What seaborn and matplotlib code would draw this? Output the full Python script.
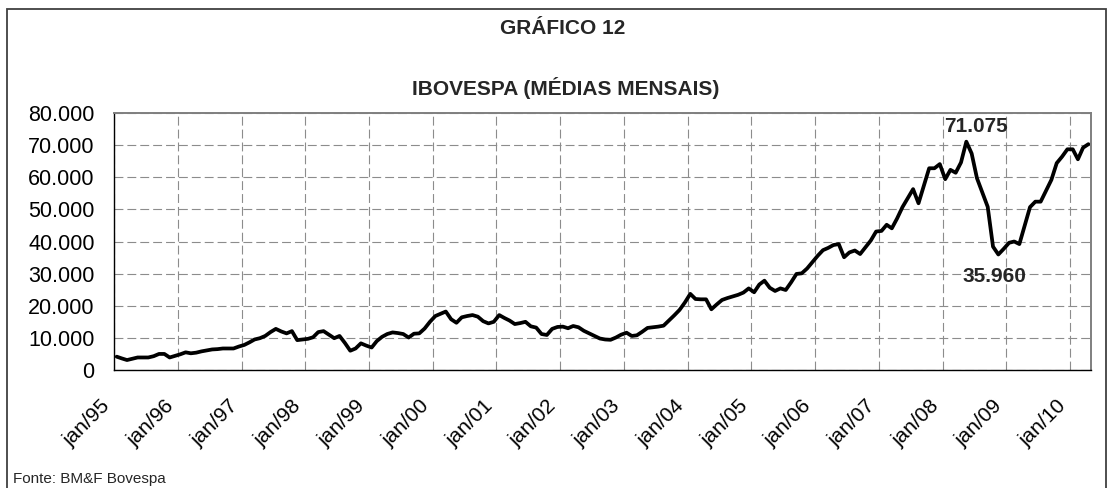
import numpy as np
import pandas as pd
import matplotlib
matplotlib.use("Agg")
import matplotlib.pyplot as plt
import seaborn as sns
from matplotlib.patches import Rectangle
from matplotlib.ticker import FuncFormatter

# ---------------- data (monthly averages, jan/95 .. apr/10) ----------------
ibov_1995 = [4150, 3600, 3100, 3500, 3900, 3900, 3900, 4300, 5000, 5000, 3900, 4400]
ibov_1996 = [4900, 5500, 5200, 5400, 5800, 6100, 6400, 6500, 6700, 6700, 6700, 7300]
ibov_1997 = [7800, 8600, 9500, 9900, 10600, 11800, 12800, 12000, 11400, 12100, 9300, 9500]
ibov_1998 = [9700, 10200, 11800, 12100, 11000, 9900, 10600, 8400, 6000, 6700, 8300, 7600]
ibov_1999 = [7000, 9000, 10300, 11200, 11700, 11500, 11200, 10100, 11300, 11400, 12900, 15000]
ibov_2000 = [16800, 17500, 18200, 15800, 14700, 16400, 16800, 17100, 16600, 15200, 14500, 15000]
ibov_2001 = [17100, 16200, 15400, 14300, 14600, 15000, 13600, 13200, 11200, 10900, 12800, 13400]
ibov_2002 = [13500, 13000, 13700, 13300, 12200, 11400, 10600, 9800, 9500, 9400, 10100, 11000]
ibov_2003 = [11600, 10600, 10800, 11900, 13100, 13300, 13500, 13800, 15400, 17000, 18700, 21000]
ibov_2004 = [23700, 22100, 22000, 22000, 18900, 20400, 21800, 22400, 22900, 23400, 24100, 25400]
ibov_2005 = [24200, 26600, 27800, 25600, 24600, 25400, 24900, 27300, 29900, 30100, 31600, 33600]
ibov_2006 = [35600, 37300, 38000, 38900, 39200, 35100, 36600, 37200, 36100, 38200, 40300, 43100]
ibov_2007 = [43300, 45200, 44100, 47200, 50700, 53500, 56300, 51900, 57300, 62800, 62800, 64100]
ibov_2008 = [59400, 62300, 61400, 64600, 71075, 67400, 59700, 55200, 50800, 38400, 35960, 37700]
ibov_2009 = [39600, 40000, 39200, 45000, 50700, 52400, 52400, 55800, 59200, 64400, 66400, 68700]
ibov_2010 = [68700, 65600, 69200, 70300]

year_tick_labels = ["jan/95", "jan/96", "jan/97", "jan/98", "jan/99", "jan/00",
                    "jan/01", "jan/02", "jan/03", "jan/04", "jan/05", "jan/06",
                    "jan/07", "jan/08", "jan/09", "jan/10"]
peak_label = "71.075"
trough_label = "35.960"

title_1 = "GRÁFICO 12"
title_2 = "IBOVESPA (MÉDIAS MENSAIS)"
source_text = "Fonte: BM&F Bovespa"

values = (ibov_1995 + ibov_1996 + ibov_1997 + ibov_1998 + ibov_1999 + ibov_2000 +
          ibov_2001 + ibov_2002 + ibov_2003 + ibov_2004 + ibov_2005 + ibov_2006 +
          ibov_2007 + ibov_2008 + ibov_2009 + ibov_2010)
n = len(values)
month_start = pd.date_range("1995-01-01", periods=n + 1, freq="MS")
mid_month = month_start[:-1] + (month_start[1:] - month_start[:-1]) / 2
df = pd.DataFrame({"data": mid_month, "ibovespa": values})

# ---------------- style ----------------
sns.set_style("white")
plt.rcParams["font.family"] = ["Liberation Sans", "DejaVu Sans"]

W, H = 1109, 488
fig = plt.figure(figsize=(W / 100, H / 100), dpi=100)
ax = fig.add_axes([114 / W, 1 - 370 / H, (1091 - 114) / W, (370 - 113) / H])

sns.lineplot(data=df, x="data", y="ibovespa", ax=ax, color="black", linewidth=2.7)

ax.set_xlim(month_start[0], month_start[-1])
ax.set_ylim(0, 80000)
ax.set_yticks(np.arange(0, 80001, 10000))
ax.yaxis.set_major_formatter(FuncFormatter(lambda v, p: f"{int(v):,}".replace(",", ".")))

year_ticks = pd.date_range("1995-01-01", periods=len(year_tick_labels), freq="YS")
ax.set_xticks(year_ticks)
ax.set_xticklabels(year_tick_labels, rotation=45, ha="right")

ax.set_xlabel("")
ax.set_ylabel("")

ax.grid(True, color="#8c8c8c", linewidth=0.8, linestyle=(0, (8.0, 3.6)))
ax.set_axisbelow(True)

for s in ["left", "bottom"]:
    ax.spines[s].set_color("black")
    ax.spines[s].set_linewidth(1.0)
for s in ["top", "right"]:
    ax.spines[s].set_color("#7f7f7f")
    ax.spines[s].set_linewidth(1.4)
    ax.spines[s].set_visible(True)

ax.tick_params(axis="both", direction="out", length=5, width=1, color="black",
               labelcolor="black")
ax.tick_params(axis="y", pad=9, labelsize=15.5)
ax.tick_params(axis="x", pad=14, labelsize=15)

# data labels
i_peak = int(np.argmax(values))
i_trough = 160 + int(np.argmin(values[160:]))
ax.annotate(peak_label, xy=(df["data"][i_peak], values[i_peak]), xytext=(7, 11),
            textcoords="offset points", ha="center", va="center",
            fontsize=15, fontweight="bold")
ax.annotate(trough_label, xy=(df["data"][i_trough], values[i_trough]), xytext=(-3, -16),
            textcoords="offset points", ha="center", va="center",
            fontsize=15, fontweight="bold")

# titles and source
fig.text(563 / W, 1 - 29 / H, title_1, ha="center", va="center", fontsize=15, fontweight="bold")
fig.text(566 / W, 1 - 88 / H, title_2, ha="center", va="center", fontsize=15, fontweight="bold")
fig.text(13 / W, 1 - 479 / H, source_text, ha="left", va="center", fontsize=11)

# outer frame
frame = Rectangle((7 / W, -0.2), (1106 - 7) / W, 1.2 - 9 / H, transform=fig.transFigure,
                  fill=False, edgecolor="#404040", linewidth=1.3)
fig.patches.append(frame)

fig.savefig("out.png", dpi=100)
